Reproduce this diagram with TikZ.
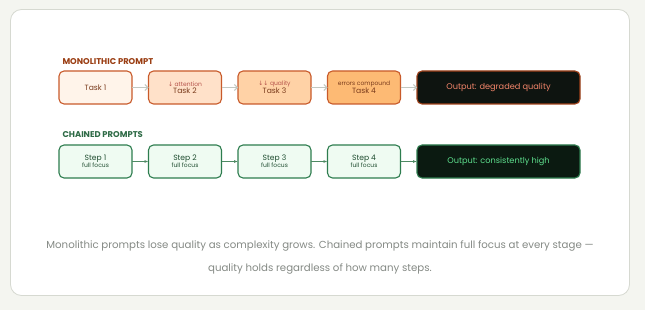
\documentclass[tikz,border=0pt]{standalone}
\usepackage{fontspec}
\setmainfont{Poppins}
\newfontfamily\symfont{DejaVu Sans}
\usepackage{xcolor}
\usepackage{tikz}
\usetikzlibrary{arrows.meta,positioning}
\definecolor{PageBg}{HTML}{F4F5F0}
\definecolor{CardLine}{HTML}{D6D9D1}
\definecolor{MonoInk}{HTML}{9A3D12}
\definecolor{MonoLine}{HTML}{C85A2A}
\definecolor{MonoText}{HTML}{7A3B1C}
\definecolor{MonoTag}{HTML}{B5534A}
\definecolor{TaskA}{HTML}{FFF4EA}
\definecolor{TaskB}{HTML}{FFE1C9}
\definecolor{TaskC}{HTML}{FFD2A6}
\definecolor{TaskD}{HTML}{FDBA74}
\definecolor{MonoOutFill}{HTML}{0E1410}
\definecolor{MonoOutLine}{HTML}{A0421A}
\definecolor{MonoOutText}{HTML}{F4866B}
\definecolor{ChainInk}{HTML}{2D6A45}
\definecolor{ChainLine}{HTML}{2E7D4F}
\definecolor{ChainFill}{HTML}{EFFBF2}
\definecolor{ChainText}{HTML}{1F4D30}
\definecolor{ChainOutFill}{HTML}{0B1A11}
\definecolor{ChainOutText}{HTML}{5EE08E}
\definecolor{DimArrow}{HTML}{C2C8C2}
\definecolor{ChainArrow}{HTML}{4E8A63}
\definecolor{CaptionInk}{HTML}{858A85}
\newcommand{\tagtxt}[1]{{\fontsize{6}{6}\selectfont #1}}

\begin{document}
\begin{tikzpicture}[x=1pt,y=-1pt,>=Latex,
  rowlabel/.style={anchor=base west,font=\bfseries\fontsize{8.4}{9}\selectfont},
  boxbase/.style={rounded corners=5pt,line width=1.1pt,minimum width=73pt,
    minimum height=33pt,inner sep=1pt,outer sep=0pt,align=center},
  taskbox/.style={boxbase,draw=MonoLine,text=MonoText,
    font=\fontsize{7.6}{7}\selectfont},
  stepbox/.style={boxbase,draw=ChainLine,fill=ChainFill,text=ChainText,
    font=\fontsize{7.6}{10}\selectfont},
  outbox/.style={boxbase,minimum width=163pt,font=\fontsize{8.2}{10}\selectfont},
  dimarrow/.style={->,DimArrow,line width=1pt,>={Straight Barb[length=3pt]}},
  chainarrow/.style={->,ChainArrow,line width=1.2pt,>={Latex[length=4pt]}}]
  \useasboundingbox (0,0) rectangle (645,310);
  \fill[PageBg] (0,0) rectangle (645,310);
  \draw[CardLine,fill=white,line width=0.8pt,rounded corners=11pt]
        (10.5,9.5) rectangle (629.5,295.5);

  % Monolithic row.
  \node[rowlabel,MonoInk] (monolabel) at (59,65) {MONOLITHIC PROMPT};
  \node[taskbox,fill=TaskA] (task1) at (95.5,87.5) {Task 1};
  \node[taskbox,fill=TaskB,right=16.5pt of task1] (task2)
        {\tagtxt{\textcolor{MonoTag}{{\symfont↓} attention}}\\Task 2};
  \node[taskbox,fill=TaskC,right=16.5pt of task2] (task3)
        {\tagtxt{\textcolor{MonoTag}{{\symfont↓↓} quality}}\\Task 3};
  \node[taskbox,fill=TaskD,right=16.5pt of task3] (task4)
        {\tagtxt{errors compound}\\Task 4};
  \node[outbox,fill=MonoOutFill,draw=MonoOutLine,text=MonoOutText,
        right=16.5pt of task4] (monoout) {Output: degraded quality};
  \foreach \a/\b in {task1/task2,task2/task3,task3/task4,task4/monoout}
    \draw[dimarrow] (\a) -- (\b);

  % Chained row.
  \node[rowlabel,ChainInk] (chainlabel) at (59,138) {CHAINED PROMPTS};
  \node[stepbox] (step1) at (95.5,161.5) {Step 1\\[-3pt]\tagtxt{full focus}};
  \node[stepbox,right=16.5pt of step1] (step2) {Step 2\\[-3pt]\tagtxt{full focus}};
  \node[stepbox,right=16.5pt of step2] (step3) {Step 3\\[-3pt]\tagtxt{full focus}};
  \node[stepbox,right=16.5pt of step3] (step4) {Step 4\\[-3pt]\tagtxt{full focus}};
  \node[outbox,fill=ChainOutFill,draw=ChainLine,text=ChainOutText,
        right=16.5pt of step4] (chainout) {Output: consistently high};
  \foreach \a/\b in {step1/step2,step2/step3,step3/step4,step4/chainout}
    \draw[chainarrow] (\a) -- (\b);

  % Caption.
  \node[CaptionInk,align=center,font=\fontsize{10.2}{23}\selectfont] (caption)
        at (320,257) {Monolithic prompts lose quality as complexity grows.
        Chained prompts maintain full focus at every stage ---\\
        quality holds regardless of how many steps.};
\end{tikzpicture}
\end{document}
